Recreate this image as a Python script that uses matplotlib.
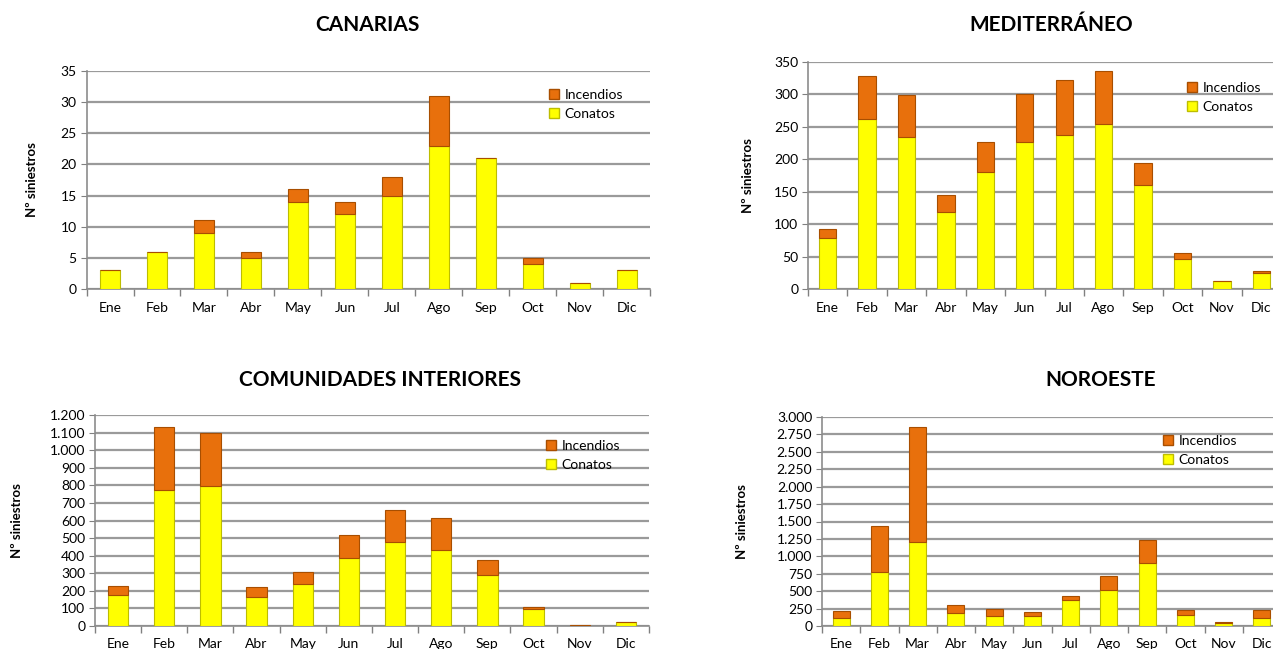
import matplotlib
matplotlib.use("Agg")
import matplotlib.pyplot as plt
from matplotlib.ticker import FuncFormatter, MultipleLocator
from matplotlib.lines import Line2D
import numpy as np

plt.rcParams['font.family'] = ['Lato', 'DejaVu Sans']

months = ["Ene", "Feb", "Mar", "Abr", "May", "Jun", "Jul", "Ago", "Sep", "Oct", "Nov", "Dic"]

canarias_conatos = [3, 6, 9, 5, 14, 12, 15, 23, 21, 4, 1, 3]
canarias_incendios = [0, 0, 2, 1, 2, 2, 3, 8, 0, 1, 0, 0]

medit_conatos = [78, 262, 235, 118, 181, 226, 237, 255, 160, 46, 12, 25]
medit_incendios = [14, 67, 64, 27, 46, 75, 86, 81, 34, 9, 1, 2]

interior_conatos = [175, 775, 795, 165, 240, 385, 475, 435, 290, 95, 2, 20]
interior_incendios = [50, 355, 305, 55, 65, 135, 185, 180, 85, 15, 3, 2]

noroeste_conatos = [120, 780, 1200, 190, 150, 150, 375, 520, 900, 165, 40, 110]
noroeste_incendios = [90, 650, 1650, 110, 90, 45, 55, 200, 340, 60, 20, 120]

YELLOW = "#FFFF00"
ORANGE = "#E8700C"
W, H = 1273, 649


def thousands(v, pos):
    return f"{int(v):,}".replace(",", ".")


def panel(rect, title, title_xy, ylabel_x, conatos, incendios, ymax, step, legend_xy):
    x0, x1, ytop, ybot = rect
    ax = fig.add_axes([x0 / W, 1 - ybot / H, (x1 - x0) / W, (ybot - ytop) / H])
    x = np.arange(len(months))
    ax.bar(x, conatos, width=0.44, color=YELLOW, edgecolor="#BDBD00", linewidth=0.8, zorder=3)
    ax.bar(x, incendios, width=0.44, bottom=conatos, color=ORANGE, edgecolor="#A84E00",
           linewidth=0.8, zorder=3)
    ax.set_xlim(-0.5, len(months) - 0.5)
    ax.set_ylim(0, ymax)
    ax.yaxis.set_major_locator(MultipleLocator(step))
    ax.yaxis.set_major_formatter(FuncFormatter(thousands))
    ax.set_xticks(x)
    ax.set_xticklabels(months)
    ax.set_xticks(np.arange(-0.5, len(months)), minor=True)
    ax.tick_params(axis="x", which="major", length=0, pad=9, labelsize=10)
    ax.tick_params(axis="x", which="minor", length=5, color="#808080", width=1)
    ax.tick_params(axis="y", length=4, color="#808080", labelsize=10, pad=3)
    ax.grid(axis="y", color="#9A9A9A", linewidth=1.6, zorder=0)
    for s in ["top", "right"]:
        ax.spines[s].set_visible(False)
    for s in ["left", "bottom"]:
        ax.spines[s].set_color("#8C8C8C")
        ax.spines[s].set_linewidth(1.2)
    fig.text(title_xy[0] / W, 1 - title_xy[1] / H, title, ha="center", va="center",
             fontsize=15, fontweight="bold")
    fig.text(ylabel_x / W, 1 - ((ytop + ybot) / 2) / H, "Nº siniestros", rotation=90,
             ha="center", va="center", fontsize=9.5, fontweight="bold")
    handles = [
        Line2D([], [], marker="s", linestyle="", markersize=7, markerfacecolor=ORANGE,
               markeredgecolor="#A84E00", label="Incendios"),
        Line2D([], [], marker="s", linestyle="", markersize=7, markerfacecolor=YELLOW,
               markeredgecolor="#BDBD00", label="Conatos"),
    ]
    ax.legend(handles=handles, loc="upper left", frameon=False, fontsize=10,
              bbox_to_anchor=(legend_xy[0] / W, 1 - legend_xy[1] / H),
              bbox_transform=fig.transFigure, handletextpad=0.25, labelspacing=0.5,
              borderpad=0, handlelength=1.0)
    return ax


fig = plt.figure(figsize=(W / 100, H / 100), dpi=100)

panel((86.5, 650.5, 71, 289), "CANARIAS", (367, 25), 32,
      canarias_conatos, canarias_incendios, 35, 5, (540, 82))
panel((808, 1281, 62, 289), "MEDITERRÁNEO", (1051, 25), 748,
      medit_conatos, medit_incendios, 350, 50, (1178, 75))
panel((95, 649, 415, 626), "COMUNIDADES INTERIORES", (380, 380), 17,
      interior_conatos, interior_incendios, 1200, 100, (537, 433))
panel((822, 1281, 417, 626), "NOROESTE", (1101, 380), 742,
      noroeste_conatos, noroeste_incendios, 3000, 250, (1154, 428))

fig.savefig("out.png", dpi=100)
